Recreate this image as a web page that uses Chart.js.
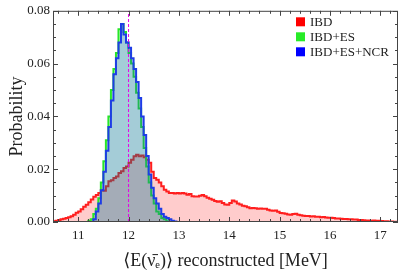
<!DOCTYPE html>
<html>
<head>
<meta charset="utf-8">
<script src="https://cdn.jsdelivr.net/npm/chart.js@4.4.1/dist/chart.umd.min.js"></script>
<style>
html, body { margin: 0; padding: 0; background: #fff; }
#wrap { width: 399px; height: 272px; }
</style>
</head>
<body>
<div id="wrap"><canvas id="c"></canvas></div>
<script>
// histogram bins are 0.05 MeV wide, values are per-bin probabilities
const binWidth = 0.05;

const ibdStart = 10.5;
const ibd = [
  0.0003, 0.0005, 0.0008, 0.0010, 0.0012, 0.0015, 0.0018, 0.0022, 0.0027, 0.0035,
  0.0040, 0.0048, 0.0058, 0.0065, 0.0075, 0.0085, 0.0096, 0.0102, 0.0110, 0.0120,
  0.0118, 0.0135, 0.0154, 0.0158, 0.0167, 0.0172, 0.0186, 0.0192, 0.0205, 0.0210,
  0.0224, 0.0236, 0.0249, 0.0255, 0.0249, 0.0252, 0.0245, 0.0236, 0.0224, 0.0190,
  0.0167, 0.0160, 0.0150, 0.0135, 0.0122, 0.0116, 0.0110, 0.0110, 0.0108, 0.0110,
  0.0108, 0.0110, 0.0108, 0.0103, 0.0106, 0.0098, 0.0097, 0.0097, 0.0099, 0.0102,
  0.0098, 0.0092, 0.0088, 0.0084, 0.0080, 0.0077, 0.0079, 0.0072, 0.0066, 0.0065,
  0.0072, 0.0081, 0.0078, 0.0070, 0.0066, 0.0062, 0.0060, 0.0056, 0.0052, 0.0053,
  0.0052, 0.0050, 0.0051, 0.0050, 0.0050, 0.0046, 0.0044, 0.0043, 0.0044, 0.0039,
  0.0034, 0.0033, 0.0031, 0.0028, 0.0027, 0.0030, 0.0031, 0.0027, 0.0026, 0.0024,
  0.0023, 0.0023, 0.0021, 0.0022, 0.0020, 0.0020, 0.0018, 0.0019, 0.0017, 0.0016,
  0.0016, 0.0015, 0.0013, 0.0013, 0.0012, 0.0011, 0.0011, 0.0010, 0.0010, 0.0009,
  0.0009, 0.0008, 0.0008, 0.0007, 0.0006, 0.0006, 0.0005, 0.0006, 0.0005, 0.0005,
  0.0004, 0.0003, 0.0003, 0.0002, 0.0002, 0.0001, 0.0001
];

const ibdEsStart = 11.2;
const ibdEs = [
  0.0005, 0.0010, 0.0030, 0.0050, 0.0090, 0.0150, 0.0230, 0.0310, 0.0400, 0.0500,
  0.0580, 0.0640, 0.0730, 0.0750, 0.0720, 0.0680, 0.0640, 0.0600, 0.0550, 0.0490,
  0.0430, 0.0360, 0.0280, 0.0210, 0.0150, 0.0100, 0.0070, 0.0040, 0.0030, 0.0015,
  0.0010, 0.0003
];

const ibdEsNcrStart = 11.25;
const ibdEsNcr = [
  0.0000, 0.0010, 0.0040, 0.0070, 0.0120, 0.0190, 0.0270, 0.0360, 0.0460, 0.0560,
  0.0620, 0.0680, 0.0750, 0.0710, 0.0680, 0.0660, 0.0620, 0.0580, 0.0530, 0.0470,
  0.0400, 0.0330, 0.0250, 0.0180, 0.0130, 0.0090, 0.0070, 0.0050, 0.0030, 0.0020,
  0.0015, 0.0010, 0.0005, 0.0002
];

const meanEnergy = 12.0;
const xTicks = [11, 12, 13, 14, 15, 16, 17];
const yTicks = [0, 0.02, 0.04, 0.06, 0.08];
const seriesLabels = ['IBD', 'IBD+ES', 'IBD+ES+NCR'];

const serif = "'Liberation Serif', 'DejaVu Serif', serif";

function histPoints(start, values) {
  const pts = [{ x: start, y: 0 }];
  values.forEach((v, i) => pts.push({ x: +(start + i * binWidth).toFixed(3), y: v }));
  pts.push({ x: +(start + values.length * binWidth).toFixed(3), y: 0 });
  return pts;
}

// Mathematica-like frame with inward ticks on all four sides
const framePlugin = {
  id: 'frame',
  afterDatasetsDraw(chart) {
    const { ctx, chartArea: a, scales: { x, y } } = chart;
    ctx.save();
    ctx.strokeStyle = '#444';
    ctx.lineWidth = 1;
    ctx.strokeRect(a.left + 0.5, a.top + 0.5, a.right - a.left - 1, a.bottom - a.top - 1);
    ctx.beginPath();
    for (let k = Math.ceil(x.min / 0.2); k * 0.2 <= x.max; k++) {
      const v = k * 0.2;
      const major = Math.abs(v - Math.round(v)) < 1e-6;
      const len = major ? 5 : 3;
      const px = Math.round(x.getPixelForValue(v)) + 0.5;
      ctx.moveTo(px, a.bottom); ctx.lineTo(px, a.bottom - len);
      ctx.moveTo(px, a.top); ctx.lineTo(px, a.top + len);
    }
    for (let k = 0; k * 0.005 <= y.max + 1e-9; k++) {
      const major = k % 4 === 0;
      const len = major ? 5 : 3;
      const py = Math.round(y.getPixelForValue(k * 0.005)) + 0.5;
      ctx.moveTo(a.left, py); ctx.lineTo(a.left + len, py);
      ctx.moveTo(a.right, py); ctx.lineTo(a.right - len, py);
    }
    ctx.stroke();
    ctx.restore();
  }
};

const legendPlugin = {
  id: 'boxLegend',
  afterDraw(chart) {
    const { ctx, chartArea: a } = chart;
    const swatch = ['rgb(255,0,0)', 'rgb(40,235,40)', 'rgb(0,0,255)'];
    ctx.save();
    ctx.font = '13px ' + serif;
    ctx.textBaseline = 'middle';
    ctx.fillStyle = '#222';
    seriesLabels.forEach((label, i) => {
      const cy = a.top + 11 + i * 15;
      const sx = a.right - 102;
      ctx.fillStyle = swatch[i];
      ctx.fillRect(sx, cy - 4.5, 9, 9);
      ctx.fillStyle = '#222';
      ctx.fillText(label, sx + 14, cy + 1);
    });
    ctx.restore();
  }
};

new Chart(document.getElementById('c'), {
  type: 'line',
  data: {
    datasets: [
      {
        label: seriesLabels[0],
        data: histPoints(ibdStart, ibd),
        stepped: 'before',
        borderColor: 'rgb(255,30,30)',
        borderWidth: 2,
        backgroundColor: 'rgba(255,0,0,0.2)',
        fill: 'origin',
        pointRadius: 0,
        order: 3
      },
      {
        label: seriesLabels[1],
        data: histPoints(ibdEsStart, ibdEs),
        stepped: 'before',
        borderColor: 'rgb(40,230,40)',
        borderWidth: 2,
        backgroundColor: 'rgba(0,255,0,0.2)',
        fill: 'origin',
        pointRadius: 0,
        order: 2
      },
      {
        label: seriesLabels[2],
        data: histPoints(ibdEsNcrStart, ibdEsNcr),
        stepped: 'before',
        borderColor: 'rgb(30,60,230)',
        borderWidth: 2,
        backgroundColor: 'rgba(0,0,255,0.2)',
        fill: 'origin',
        pointRadius: 0,
        order: 1
      },
      {
        label: 'mean',
        data: [{ x: meanEnergy, y: 0 }, { x: meanEnergy, y: 0.08 }],
        borderColor: 'rgb(230,0,230)',
        borderWidth: 1,
        borderDash: [3, 2],
        fill: false,
        pointRadius: 0,
        order: 0
      }
    ]
  },
  options: {
    responsive: true,
    maintainAspectRatio: false,
    animation: false,
    layout: { padding: { top: 10, right: 1, left: 0, bottom: 0 } },
    plugins: {
      legend: { display: false },
      tooltip: { enabled: false }
    },
    scales: {
      x: {
        type: 'linear',
        min: 10.5,
        max: 17.35,
        afterBuildTicks: (s) => { s.ticks = xTicks.map(v => ({ value: v })); },
        afterFit: (s) => { s.height = 50; },
        grid: { display: false, drawTicks: false },
        border: { display: false },
        ticks: {
          padding: 6,
          color: '#222',
          font: { family: serif, size: 13 },
          callback: (v) => String(v)
        },
        title: {
          display: true,
          text: '\u27E8E(\u03BD\u0304\u2091)\u27E9 reconstructed [MeV]',
          color: '#222',
          font: { family: serif, size: 18 },
          padding: { top: 0, bottom: 0 }
        }
      },
      y: {
        type: 'linear',
        min: 0,
        max: 0.08,
        afterBuildTicks: (s) => { s.ticks = yTicks.map(v => ({ value: v })); },
        afterFit: (s) => { s.width = 53; },
        grid: { display: false, drawTicks: false },
        border: { display: false },
        ticks: {
          padding: 3,
          color: '#222',
          font: { family: serif, size: 13 },
          callback: (v) => v.toFixed(2)
        },
        title: {
          display: true,
          text: 'Probability',
          color: '#222',
          font: { family: serif, size: 18 },
          padding: { top: 6, bottom: 0 }
        }
      }
    }
  },
  plugins: [framePlugin, legendPlugin]
});
</script>
</body>
</html>
